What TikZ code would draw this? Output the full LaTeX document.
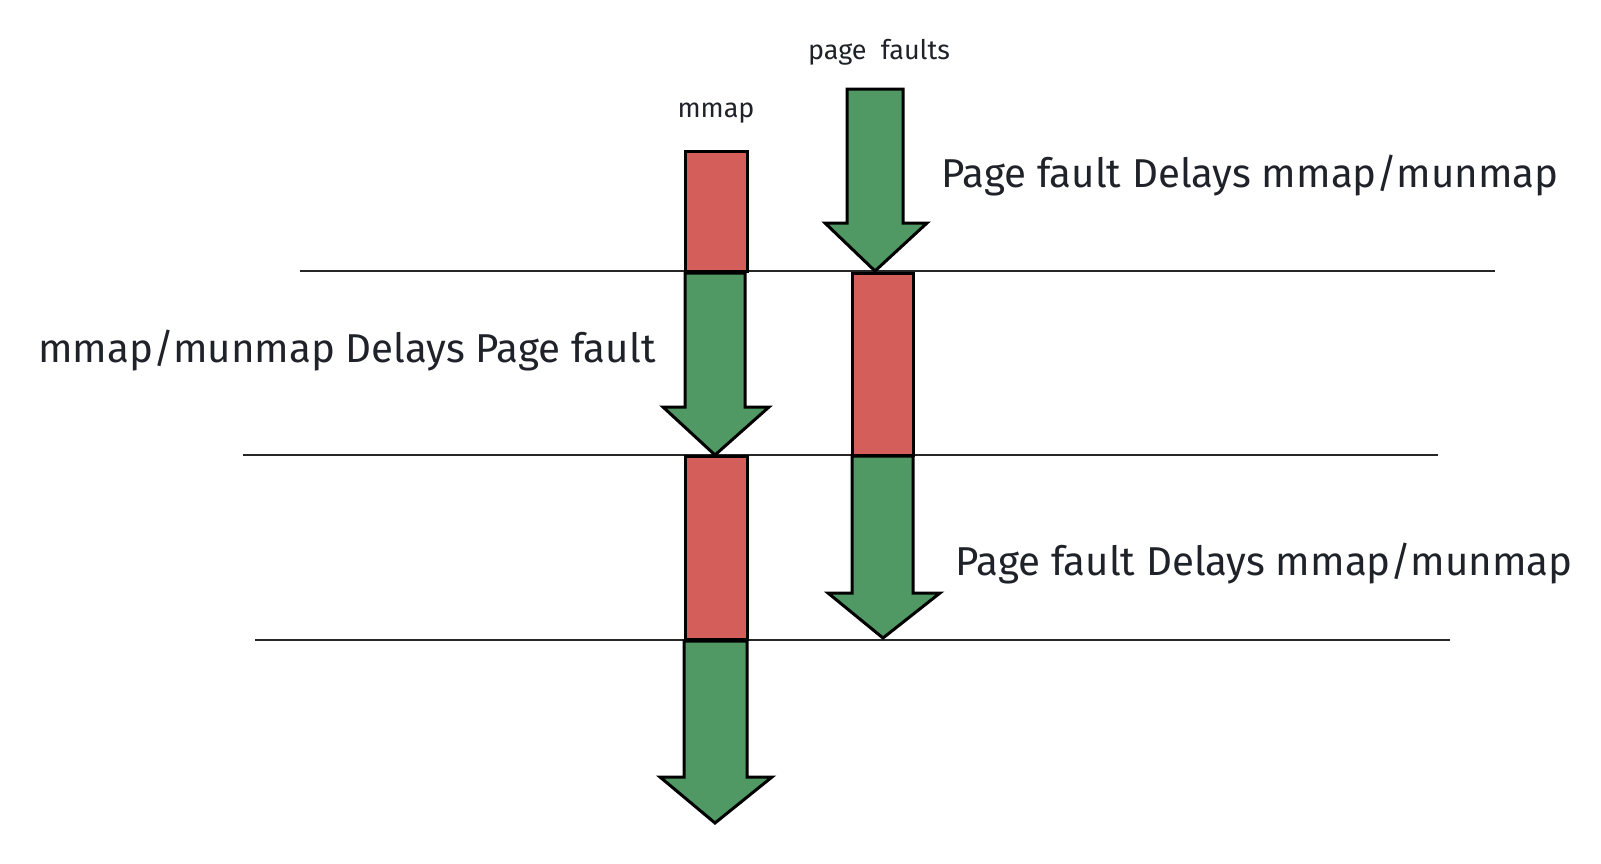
\documentclass[tikz,border=0pt]{standalone}
\usepackage{fontspec}
\setmainfont{Fira Sans}
\definecolor{redfill}{HTML}{D45E5A}
\definecolor{greenfill}{HTML}{509864}
\definecolor{txt}{HTML}{1F2329}
\tikzset{
  hline/.style={draw=black!85, line width=1.1pt},
  redbox/.style={fill=redfill, draw=black, line width=1.5pt},
  greenarrow/.style={fill=greenfill, draw=black, line width=1.5pt, line join=miter},
  bigtext/.style={text=txt, inner sep=0pt, font=\fontsize{20.15}{24}\selectfont},
  smalltext/.style={text=txt, inner sep=0pt, font=\fontsize{13.5}{16}\selectfont}
}
\begin{document}
\begin{tikzpicture}[x=0.5pt,y=-0.5pt]
\useasboundingbox (0,0) rectangle (1601,863);
% horizontal lines
\draw[hline] (300,271) -- (1495,271);
\draw[hline] (243,455) -- (1438,455);
\draw[hline] (255,640) -- (1450,640);
% red boxes
\filldraw[redbox] (685,151) rectangle (747,271);
\filldraw[redbox] (852,273) rectangle (913,455);
\filldraw[redbox] (685,456) rectangle (747,639);
% green arrows
\filldraw[greenarrow] (847,89) -- (903,89) -- (903,223) -- (927,223) -- (875,271) -- (825,223) -- (847,223) -- cycle;
\filldraw[greenarrow] (685,273) -- (745,273) -- (745,407) -- (769,407) -- (715,455) -- (663,407) -- (685,407) -- cycle;
\filldraw[greenarrow] (852,456) -- (913,456) -- (913,593) -- (940,593) -- (883,638) -- (828,593) -- (852,593) -- cycle;
\filldraw[greenarrow] (684,641) -- (747,641) -- (747,777) -- (772,777) -- (715,823) -- (660,777) -- (684,777) -- cycle;
% texts
\node[smalltext] (pf) at (879,52) {page\ \ faults};
\node[smalltext] (mm) at (716,113) {mmap};
\node[bigtext, anchor=west] (t1) at (941,176) {Page fault Delays mmap/munmap};
\node[bigtext, anchor=west] (t2) at (38,351) {mmap/munmap Delays Page fault};
\node[bigtext, anchor=west] (t3) at (955,564) {Page fault Delays mmap/munmap};
\end{tikzpicture}
\end{document}
